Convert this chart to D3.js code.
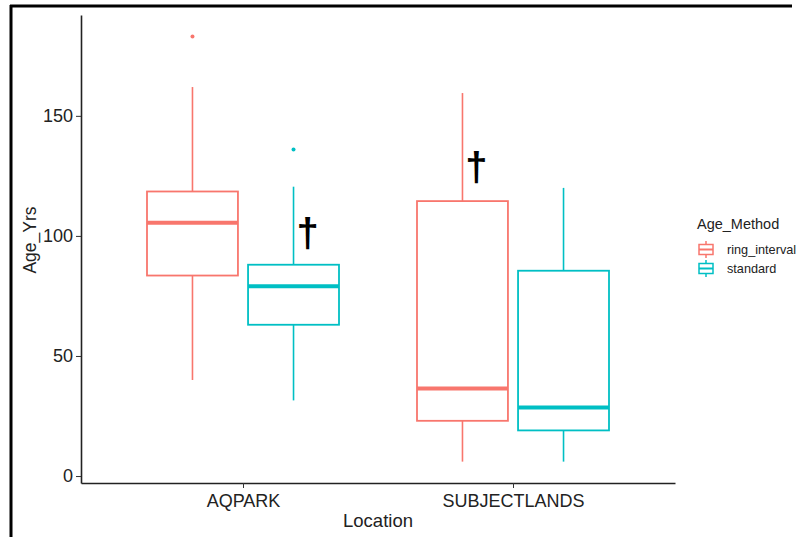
<!DOCTYPE html>
<html>
<head>
<meta charset="utf-8">
<script src="https://cdn.jsdelivr.net/npm/d3@7"></script>
<style>
  body { margin: 0; background: #fff; }
  text { font-family: "Liberation Sans", Arial, sans-serif; }
</style>
</head>
<body>
<svg id="chart" width="801" height="537"></svg>
<script>
const locations = ["AQPARK", "SUBJECTLANDS"];
const methods = ["ring_interval", "standard"];

// one entry per box
const boxLocation = ["AQPARK", "AQPARK", "SUBJECTLANDS", "SUBJECTLANDS"];
const boxMethod = ["ring_interval", "standard", "ring_interval", "standard"];
const lowerWhisker = [40, 31.5, 6, 6];
const lowerHinge = [83.5, 63, 23, 19];
const medians = [105.5, 79, 36.5, 28.5];
const upperHinge = [118.5, 88, 114.5, 85.5];
const upperWhisker = [162, 120.5, 159.5, 120];

const outlierLocation = ["AQPARK", "AQPARK"];
const outlierMethod = ["ring_interval", "standard"];
const outlierValue = [183, 136];

// significance daggers
const daggerLocation = ["AQPARK", "SUBJECTLANDS"];
const daggerMethod = ["standard", "ring_interval"];
const daggerValue = [95.4, 122.9];

const yTicks = [0, 50, 100, 150];

const svg = d3.select("#chart");

// outer frame (top and left edges of the screenshot)
svg.append("line").attr("x1", 10).attr("x2", 792).attr("y1", 6).attr("y2", 6)
  .attr("stroke", "#000").attr("stroke-width", 3);
svg.append("line").attr("x1", 11).attr("x2", 11).attr("y1", 5).attr("y2", 537)
  .attr("stroke", "#000").attr("stroke-width", 3);

const plotLeft = 81, plotRight = 675, plotTop = 15, plotBottom = 483;

const x = d3.scalePoint().domain(locations).range([plotLeft, plotRight]).padding(0.6);
const dodge = d3.scaleBand().domain(methods).range([-96, 96]).paddingInner(0.1);
const y = d3.scaleLinear().domain([-2.9, 192]).range([plotBottom, plotTop]);
const color = d3.scaleOrdinal().domain(methods).range(["#F8766D", "#00BFC4"]);

const cx = (loc, m) => x(loc) + dodge(m) + dodge.bandwidth() / 2;

const boxes = boxLocation.map((loc, i) => ({
  loc, m: boxMethod[i],
  lo: lowerWhisker[i], q1: lowerHinge[i], med: medians[i], q3: upperHinge[i], hi: upperWhisker[i]
}));

const g = svg.append("g");

// whiskers
g.selectAll(".whisker-lo").data(boxes).join("line")
  .attr("x1", d => cx(d.loc, d.m)).attr("x2", d => cx(d.loc, d.m))
  .attr("y1", d => y(d.lo)).attr("y2", d => y(d.q1))
  .attr("stroke", d => color(d.m)).attr("stroke-width", 1.6);
g.selectAll(".whisker-hi").data(boxes).join("line")
  .attr("x1", d => cx(d.loc, d.m)).attr("x2", d => cx(d.loc, d.m))
  .attr("y1", d => y(d.hi)).attr("y2", d => y(d.q3))
  .attr("stroke", d => color(d.m)).attr("stroke-width", 1.6);

// boxes
g.selectAll(".box").data(boxes).join("rect")
  .attr("x", d => x(d.loc) + dodge(d.m))
  .attr("width", dodge.bandwidth())
  .attr("y", d => y(d.q3))
  .attr("height", d => y(d.q1) - y(d.q3))
  .attr("fill", "#fff")
  .attr("stroke", d => color(d.m)).attr("stroke-width", 1.8);

// medians
g.selectAll(".median").data(boxes).join("line")
  .attr("x1", d => x(d.loc) + dodge(d.m))
  .attr("x2", d => x(d.loc) + dodge(d.m) + dodge.bandwidth())
  .attr("y1", d => y(d.med)).attr("y2", d => y(d.med))
  .attr("stroke", d => color(d.m)).attr("stroke-width", 4);

// outliers
g.selectAll(".outlier").data(outlierValue).join("circle")
  .attr("cx", (d, i) => cx(outlierLocation[i], outlierMethod[i]))
  .attr("cy", d => y(d))
  .attr("r", 2)
  .attr("fill", (d, i) => color(outlierMethod[i]));

// daggers
g.selectAll(".dagger").data(daggerValue).join("text")
  .attr("x", (d, i) => cx(daggerLocation[i], daggerMethod[i]) + 14)
  .attr("y", d => y(d))
  .attr("text-anchor", "middle")
  .style("font-size", "40px")
  .style("font-weight", "bold")
  .attr("fill", "#000")
  .text("\u2020");

// y axis
const yAxis = svg.append("g")
  .attr("transform", `translate(${plotLeft},0)`)
  .call(d3.axisLeft(y).tickValues(yTicks).tickSize(5).tickSizeOuter(0).tickPadding(3));
yAxis.select(".domain").attr("stroke", "#222").attr("stroke-width", 1.6);
yAxis.selectAll(".tick line").attr("stroke", "#333");
yAxis.selectAll(".tick text").style("font-size", "18px").attr("fill", "#222");

// x axis
const xAxis = svg.append("g")
  .attr("transform", `translate(0,${plotBottom})`)
  .call(d3.axisBottom(x).tickSize(5).tickSizeOuter(0).tickPadding(6));
xAxis.select(".domain").attr("stroke", "#222").attr("stroke-width", 1.6);
xAxis.selectAll(".tick line").attr("stroke", "#333");
xAxis.selectAll(".tick text").style("font-size", "18px").attr("fill", "#222");

// axis titles
svg.append("text")
  .attr("transform", "translate(36,240) rotate(-90)")
  .attr("text-anchor", "middle")
  .style("font-size", "17.5px").attr("fill", "#222")
  .text("Age_Yrs");
svg.append("text")
  .attr("x", 378).attr("y", 527)
  .attr("text-anchor", "middle")
  .style("font-size", "18.5px").attr("fill", "#222")
  .text("Location");

// legend
const legend = svg.append("g").attr("transform", "translate(697,229)");
legend.append("text").attr("x", 0).attr("y", 0)
  .style("font-size", "14.5px").attr("fill", "#222").text("Age_Method");
methods.forEach((m, i) => {
  const k = legend.append("g").attr("transform", `translate(0,${12 + i * 19})`);
  k.append("line").attr("x1", 9).attr("x2", 9).attr("y1", 0).attr("y2", 17)
    .attr("stroke", color(m)).attr("stroke-width", 1.5);
  k.append("rect").attr("x", 2).attr("y", 3.5).attr("width", 14).attr("height", 10)
    .attr("fill", "#fff").attr("stroke", color(m)).attr("stroke-width", 1.5);
  k.append("line").attr("x1", 2).attr("x2", 16).attr("y1", 8.5).attr("y2", 8.5)
    .attr("stroke", color(m)).attr("stroke-width", 2);
  k.append("text").attr("x", 30).attr("y", 13)
    .style("font-size", "12.7px").attr("fill", "#222").text(m);
});
</script>
</body>
</html>
